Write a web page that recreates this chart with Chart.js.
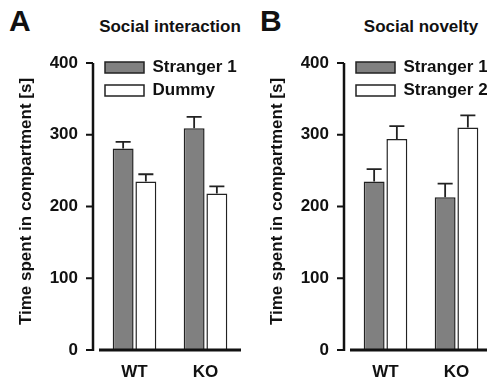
<!DOCTYPE html>
<html>
<head>
<meta charset="utf-8">
<script src="https://cdn.jsdelivr.net/npm/chart.js@4.4.0/dist/chart.umd.min.js"></script>
<style>
  html, body { margin: 0; padding: 0; background: #fff; overflow: hidden; }
  body { width: 487px; height: 382px; position: relative; font-family: 'Liberation Sans', Arial, sans-serif; font-weight: bold; color: #111; }
  .letter { position: absolute; top: 6px; font-size: 30px; line-height: 30px; }
  .title { position: absolute; top: 18px; width: 142px; text-align: center; font-size: 17px; line-height: 17px; white-space: nowrap; }
  canvas { position: absolute; top: 0; }
</style>
</head>
<body>
<div class="letter" style="left:9px">A</div>
<div class="title" style="left:99px">Social interaction</div>
<div class="letter" style="left:260px">B</div>
<div class="title" style="left:350px">Social novelty</div>
<canvas id="chartA" width="245" height="382" style="left:0"></canvas>
<canvas id="chartB" width="245" height="382" style="left:251px"></canvas>
<script>
const genotypes = ['WT', 'KO'];
const yTicks = [0, 100, 200, 300, 400];
const axisTitle = 'Time spent in compartment [s]';

// A - social interaction (mean, SEM)
const interactionLabels = ['Stranger 1', 'Dummy'];
const interactionStranger1 = [281, 309];
const interactionStranger1Sem = [9, 16];
const interactionDummy = [235, 218];
const interactionDummySem = [10, 10];

// B - social novelty (mean, SEM)
const noveltyLabels = ['Stranger 1', 'Stranger 2'];
const noveltyStranger1 = [235, 213];
const noveltyStranger1Sem = [17, 19];
const noveltyStranger2 = [294, 310];
const noveltyStranger2Sem = [18, 17];

const ink = '#111';
const font = { family: "'Liberation Sans', Arial, sans-serif", size: 17, weight: 'bold' };

// legend with position chartArea gets top reset to 0, put it back inside the plot
const legendPlugin = {
  id: 'legendInside',
  afterLayout(chart) {
    const lg = chart.legend;
    if (!lg) return;
    const h = lg.height;
    lg.top = chart.chartArea.top;
    lg.bottom = lg.top + h;
  }
};

// error bars, upper side only
const semPlugin = {
  id: 'sem',
  afterDatasetsDraw(chart) {
    const { ctx, scales: { y } } = chart;
    ctx.save();
    ctx.strokeStyle = '#222';
    ctx.lineWidth = 1.8;
    chart.data.datasets.forEach((ds, di) => {
      chart.getDatasetMeta(di).data.forEach((bar, i) => {
        const top = y.getPixelForValue(ds.data[i] + ds.sem[i]);
        const half = bar.width * 0.36;
        ctx.beginPath();
        ctx.moveTo(bar.x, bar.y);
        ctx.lineTo(bar.x, top);
        ctx.moveTo(bar.x - half, top);
        ctx.lineTo(bar.x + half, top);
        ctx.stroke();
      });
    });
    ctx.restore();
  }
};

// y axis line sits a little left of the baseline
const axesPlugin = {
  id: 'axes',
  afterDatasetsDraw(chart) {
    const { ctx, chartArea, scales: { y } } = chart;
    const axisX = chartArea.left - 6;
    const y0 = y.getPixelForValue(0);
    ctx.save();
    ctx.strokeStyle = ink;
    ctx.lineWidth = 2.5;
    ctx.beginPath();
    ctx.moveTo(axisX, y.getPixelForValue(yTicks[yTicks.length - 1]));
    ctx.lineTo(axisX, y0 + 1);
    ctx.stroke();
    ctx.lineWidth = 2;
    ctx.beginPath();
    yTicks.forEach(v => {
      const py = y.getPixelForValue(v);
      ctx.moveTo(axisX - 7, py);
      ctx.lineTo(axisX, py);
    });
    ctx.stroke();
    ctx.lineWidth = 3;
    ctx.beginPath();
    ctx.moveTo(chartArea.left, y0);
    ctx.lineTo(chartArea.right, y0);
    ctx.stroke();
    ctx.restore();
  }
};

function bars(label, values, sem, fill) {
  return {
    label: label,
    data: values,
    sem: sem,
    backgroundColor: fill,
    borderColor: '#222',
    borderWidth: 1.5,
    categoryPercentage: 0.64,
    barPercentage: 0.92
  };
}

function makeChart(id, datasets) {
  return new Chart(document.getElementById(id), {
    type: 'bar',
    data: { labels: genotypes, datasets: datasets },
    plugins: [legendPlugin, semPlugin, axesPlugin],
    options: {
      responsive: false,
      animation: false,
      events: [],
      layout: { padding: { top: 53, right: 4, left: 0, bottom: 0 } },
      plugins: {
        tooltip: { enabled: false },
        legend: {
          position: 'chartArea',
          align: 'start',
          labels: { boxWidth: 39, boxHeight: 11, padding: 6, font: font, color: ink }
        }
      },
      scales: {
        x: {
          grid: { display: false, drawTicks: false },
          border: { display: false },
          ticks: { font: font, color: ink, padding: 12 },
          afterFit: s => { s.height = 32; }
        },
        y: {
          min: 0,
          max: 414,
          grid: { display: false, drawTicks: false },
          border: { display: false },
          ticks: { font: font, color: ink, padding: 21 },
          afterBuildTicks: s => { s.ticks = yTicks.map(v => ({ value: v })); },
          title: { display: true, text: axisTitle, font: font, color: ink, padding: { top: 16, bottom: 0 } },
          afterFit: s => { s.width = 99; }
        }
      }
    }
  });
}

makeChart('chartA', [
  bars(interactionLabels[0], interactionStranger1, interactionStranger1Sem, '#808080'),
  bars(interactionLabels[1], interactionDummy, interactionDummySem, '#ffffff')
]);

makeChart('chartB', [
  bars(noveltyLabels[0], noveltyStranger1, noveltyStranger1Sem, '#808080'),
  bars(noveltyLabels[1], noveltyStranger2, noveltyStranger2Sem, '#ffffff')
]);
</script>
</body>
</html>
